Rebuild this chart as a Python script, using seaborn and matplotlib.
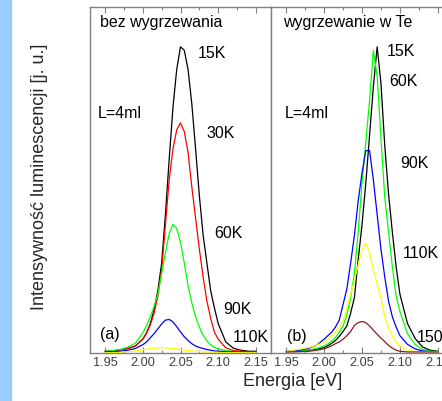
import matplotlib
matplotlib.use("Agg")
import matplotlib.pyplot as plt
from matplotlib.patches import Rectangle
from matplotlib.ticker import MultipleLocator, FormatStrFormatter
import pandas as pd
import seaborn as sns

# ---------------- data ----------------
energy = [1.95, 1.96, 1.97, 1.98, 1.99, 2.00, 2.005, 2.01, 2.015, 2.02, 2.025,
          2.03, 2.035, 2.04, 2.045, 2.05, 2.055, 2.06, 2.065, 2.07, 2.075,
          2.08, 2.085, 2.09, 2.095, 2.10, 2.11, 2.12, 2.13, 2.14, 2.15]

# (a) bez wygrzewania
left_temps = ["15K", "30K", "60K", "90K", "110K"]
a_15K = [.005, .006, .009, .013, .020, .040, .058, .085, .125, .18, .26,
         .40, .56, .71, .82, .885, .875, .82, .72, .59, .455,
         .34, .26, .18, .13, .085, .032, .014, .008, .005, .005]
a_30K = [.005, .006, .009, .013, .020, .040, .058, .082, .115, .165, .24,
         .37, .50, .59, .645, .665, .64, .58, .48, .39, .30,
         .22, .15, .10, .06, .04, .015, .007, .005, .004, .004]
a_60K = [.005, .007, .010, .017, .028, .058, .080, .105, .135, .17, .23,
         .29, .345, .372, .36, .32, .26, .195, .145, .105, .075,
         .051, .035, .024, .016, .012, .007, .004, .004, .004, .004]
a_90K = [.003, .004, .005, .008, .013, .024, .032, .044, .056, .070, .084,
         .095, .097, .090, .076, .061, .047, .036, .027, .020, .016,
         .013, .010, .008, .006, .005, .004, .003, .003, .003, .003]
a_110K = [.001, .001, .002, .004, .006, .009, .011, .013, .014, .015, .015,
          .015, .014, .013, .012, .010, .009, .007, .006, .005, .004,
          .003, .003, .002, .002, .002, .001, .001, .001, .001, .001]

# (b) wygrzewanie w Te
right_temps = ["15K", "60K", "90K", "110K", "150K"]
b_15K = [.004, .005, .006, .008, .011, .016, .021, .028, .036, .048, .062,
         .078, .115, .16, .27, .37, .49, .63, .77, .885, .78,
         .60, .46, .35, .25, .17, .085, .042, .017, .008, .005]
b_60K = [.004, .005, .007, .009, .013, .020, .026, .034, .045, .060, .078,
         .110, .16, .23, .35, .49, .61, .73, .875, .80, .62,
         .45, .35, .25, .165, .12, .056, .025, .010, .005, .004]
b_90K = [.004, .006, .009, .014, .022, .040, .050, .060, .075, .095, .14,
         .185, .26, .34, .44, .52, .585, .585, .50, .40, .30,
         .22, .15, .105, .075, .050, .025, .012, .006, .004, .004]
b_110K = [.004, .008, .012, .016, .022, .032, .042, .050, .060, .075, .095,
          .13, .17, .21, .255, .30, .318, .29, .24, .20, .16,
          .105, .072, .048, .032, .020, .008, .004, .004, .004, .004]
b_150K = [.003, .003, .004, .005, .008, .012, .016, .021, .027, .032, .040,
          .050, .062, .080, .088, .091, .088, .078, .066, .054, .043,
          .033, .022, .014, .008, .005, .003, .003, .003, .003, .003]

left_colors = {"15K": "#000000", "30K": "#ff0000", "60K": "#00ff00",
               "90K": "#0000ff", "110K": "#ffff00"}
right_colors = {"15K": "#000000", "60K": "#00ff00", "90K": "#0000ff",
                "110K": "#ffff00", "150K": "#8b1a1a"}

def long_frame(temps, series):
    rows = []
    for t, vals in zip(temps, series):
        for e, v in zip(energy, vals):
            rows.append({"E": e, "I": v, "T": t})
    return pd.DataFrame(rows)

df_a = long_frame(left_temps, [a_15K, a_30K, a_60K, a_90K, a_110K])
df_b = long_frame(right_temps, [b_15K, b_60K, b_90K, b_110K, b_150K])

# ---------------- style ----------------
sns.set_style("white")
plt.rcParams['font.family'] = ['Liberation Sans', 'DejaVu Sans']

W, H = 442, 401
fig = plt.figure(figsize=(W / 100, H / 100), dpi=100)
fig.patches.append(Rectangle((0, 0), 11 / W, 1, transform=fig.transFigure,
                             color="#99ccff", zorder=0))

axL = fig.add_axes([90 / W, 48 / H, 181 / W, 346 / H])
axR = fig.add_axes([271 / W, 48 / H, 182 / W, 346 / H])

sns.lineplot(data=df_a, x="E", y="I", hue="T", hue_order=left_temps,
             palette=left_colors, ax=axL, legend=False, linewidth=0.9,
             errorbar=None)
sns.lineplot(data=df_b, x="E", y="I", hue="T", hue_order=right_temps,
             palette=right_colors, ax=axR, legend=False, linewidth=0.9,
             errorbar=None)

for ax in (axL, axR):
    ax.set_xlim(1.93, 2.17)
    ax.set_ylim(0, 1)
    ax.set_yticks([])
    ax.set_xlabel("")
    ax.set_ylabel("")
    ax.xaxis.set_major_locator(MultipleLocator(0.05))
    ax.xaxis.set_minor_locator(MultipleLocator(0.025))
    ax.xaxis.set_major_formatter(FormatStrFormatter('%.2f'))
    ax.tick_params(axis='x', which='both', direction='in', top=True,
                   bottom=True, color='#808080', labelcolor='#404040',
                   labelsize=9.2, pad=3)
    ax.tick_params(axis='x', which='major', length=4, width=0.8)
    ax.tick_params(axis='x', which='minor', length=2.5, width=0.8)
    for s in ax.spines.values():
        s.set_color('#808080')
        s.set_linewidth(1.0)
        s.set_visible(True)

def label(x, y, s, size=11.5, **kw):
    fig.text(x / W, 1 - y / H, s, ha='left', va='center', fontsize=size,
             color='black', **kw)

# panel (a)
label(100, 22, "bez wygrzewania")
label(198, 53, "15K")
label(206, 133, "30K")
label(98, 114, "L=4ml")
label(214, 234, "60K")
label(223, 309, "90K")
label(233, 337, "110K")
label(100, 334, "(a)")

# panel (b)
label(283, 22, "wygrzewanie w Te")
label(387, 51, "15K")
label(389, 81, "60K")
label(285, 113, "L=4ml")
label(400, 163, "90K")
label(403, 253, "110K")
label(287, 337, "(b)")
label(417, 337, "150K")

fig.text(293 / W, 1 - 381 / H, "Energia [eV]", ha='center', va='center',
         fontsize=13)
fig.text(40 / W, 1 - 177 / H, "Intensywność luminescencji [j. u.]",
         ha='center', va='center', rotation=90, fontsize=13)

fig.savefig("out.png", dpi=100)
